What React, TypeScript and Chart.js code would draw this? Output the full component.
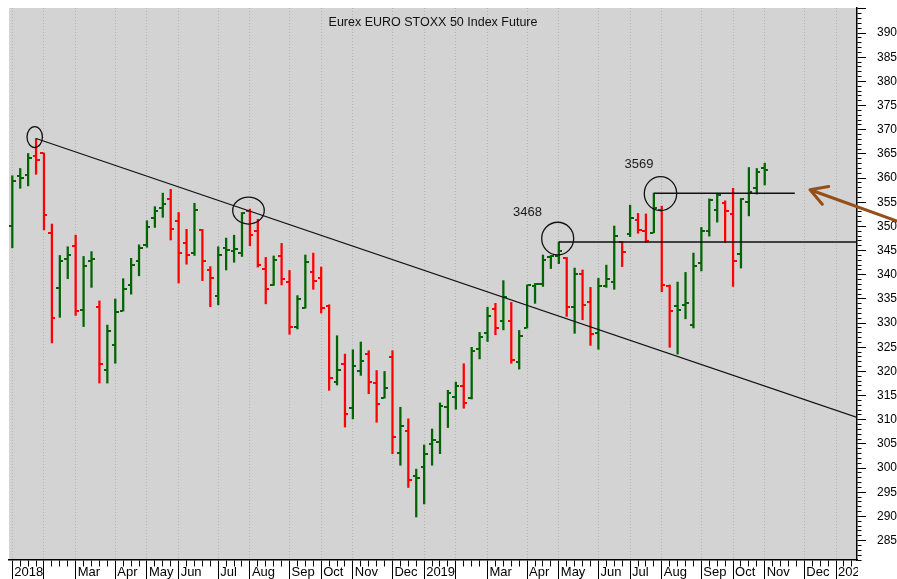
import React, { useEffect, useRef } from 'react';
import { Chart, registerables } from 'chart.js';

Chart.register(...registerables);

// ---- weekly OHLC (week index 0 = first week of Jan 2018) ----
const OPEN = [3501,3605,3606,3646,3651,3486,3372,3433,3460,3327,3428,3334,3203,3254,3326,3379,3429,3462,3517,3539,3557,3511,3465,3445,3493,3410,3356,3455,3449,3445,3533,3491,3412,3379,3438,3386,3293,3332,3405,3393,3336,3179,3215,3125,3202,3236,3176,3146,3231,3031,3076,2984,3002,3050,3055,3126,3148,3170,3146,3247,3279,3330,3305,3305,3219,3290,3376,3381,3436,3439,3434,3333,3401,3343,3279,3376,3386,3467,3484,3513,3490,3487,3535,3377,3336,3338,3296,3424,3491,3534,3549,3526,3443,3550,3579,3622];
const HIGH = [3605,3620,3651,3682,3652,3505,3440,3458,3482,3438,3448,3346,3296,3350,3392,3434,3462,3512,3541,3569,3577,3529,3494,3548,3494,3417,3458,3476,3482,3529,3536,3515,3436,3439,3465,3409,3357,3441,3445,3416,3338,3274,3236,3245,3261,3243,3202,3200,3243,3126,3102,2998,3048,3081,3135,3161,3178,3216,3250,3281,3333,3341,3388,3343,3285,3379,3382,3441,3440,3468,3436,3414,3410,3374,3393,3420,3501,3469,3544,3527,3526,3569,3542,3379,3385,3405,3445,3498,3557,3569,3553,3579,3558,3622,3620,3631];
const LOW = [3456,3579,3584,3608,3493,3259,3312,3392,3316,3293,3374,3176,3176,3217,3325,3360,3398,3457,3498,3519,3472,3383,3422,3440,3388,3334,3338,3410,3426,3438,3460,3416,3340,3378,3379,3277,3288,3331,3370,3321,3161,3172,3085,3102,3192,3154,3095,3145,3030,3006,2960,2899,2926,3006,3030,3084,3122,3124,3143,3226,3262,3276,3286,3217,3205,3290,3341,3376,3413,3423,3314,3279,3307,3254,3246,3374,3370,3417,3479,3486,3467,3487,3365,3250,3236,3309,3290,3408,3480,3509,3467,3376,3414,3522,3567,3586];
const CLOSE = [3595,3600,3642,3638,3524,3310,3429,3440,3325,3418,3432,3215,3283,3323,3371,3420,3456,3498,3533,3547,3494,3445,3440,3534,3429,3393,3440,3452,3454,3527,3482,3420,3371,3431,3391,3292,3350,3426,3388,3332,3186,3203,3112,3212,3222,3179,3133,3166,3064,3088,2975,2980,3029,3058,3128,3156,3170,3135,3243,3271,3314,3290,3354,3224,3274,3378,3381,3430,3438,3450,3333,3402,3338,3278,3376,3391,3480,3448,3518,3492,3470,3538,3379,3325,3327,3342,3419,3491,3555,3565,3531,3429,3556,3572,3612,3616];

// ---- x axis (weeks) ----
const MONTH_START_WEEKS = [0,4,8,13,17,21,26,30,35,39,43,48,52,56,60,65,69,74,78,82,87,91,95,100,104];
const MONTH_LABELS = ['2018','','Mar','Apr','May','Jun','Jul','Aug','Sep','Oct','Nov','Dec','2019','','Mar','Apr','May','Jun','Jul','Aug','Sep','Oct','Nov','Dec','2020'];
const X_MIN = -0.417;
const X_MAX = 106.65;
const LAST_TICK_WEEK = 106;

// ---- y axis ----
const Y_MIN = 2810;
const Y_MAX = 3952;
const Y_MINOR_STEP = 10;
const Y_MAJOR_STEP = 50;
const Y_LABEL_MIN = 2850;
const Y_LABEL_MAX = 3900;

// ---- annotations ----
const TITLE = 'Eurex EURO STOXX 50 Index Future';
const TREND_WEEKS = [3, X_MAX];
const TREND_PRICES = [3682, 3105];
const LEVEL_PRICES = [3468, 3569];
const LEVEL_START_WEEKS = [69, 81];
const LEVEL_END_WEEKS = [X_MAX, 98.8];
const LEVEL_TEXT_WEEKS = [65.05, 79.13];
const LEVEL_TEXT_PRICES = [3522.5, 3622];
const CIRCLE_WEEKS = [2.83, 29.82, 68.86, 81.84];
const CIRCLE_PRICES = [3685, 3533, 3475, 3568];
const CIRCLE_RADII = [[7.7, 10.5], [15.8, 13.5], [16, 16.3], [16.2, 17]];
const ARROW_WEEKS = [111.7, 100.72]; // tail, tip
const ARROW_PRICES = [3511, 3576];

// ---- styles ----
const FONT = '"Liberation Sans", Arial, Helvetica, sans-serif';
const UP_COLOR = '#006400';
const DOWN_COLOR = '#ff0000';
const PLOT_BG = '#d3d3d3';
const GRID_COLOR = '#b4b4b4';
const ARROW_COLOR = '#94501a';

const isMonthStart = (v: any) => MONTH_START_WEEKS.includes(v);

function makeTick(color: string, side: 'left' | 'right'): HTMLCanvasElement {
  const c = document.createElement('canvas');
  c.width = 7;
  c.height = 2;
  const g = c.getContext('2d')!;
  g.fillStyle = color;
  if (side === 'left') g.fillRect(0, 0, 3, 2);
  else g.fillRect(4, 0, 3, 2);
  return c;
}

const overlayPlugin = {
  id: 'overlay',
  beforeDraw(chart: any) {
    const { ctx, chartArea: a, width, height } = chart;
    ctx.save();
    ctx.fillStyle = '#ffffff';
    ctx.fillRect(0, 0, width, height);
    ctx.fillStyle = PLOT_BG;
    ctx.fillRect(a.left, a.top, a.right - a.left, a.bottom - a.top);
    ctx.restore();
  },
  afterDatasetsDraw(chart: any) {
    const { ctx, chartArea: a, scales } = chart;
    const xs = scales.x;
    const ys = scales.y;
    ctx.save();
    ctx.beginPath();
    ctx.rect(a.left, a.top, a.right - a.left, a.bottom - a.top);
    ctx.clip();
    // circles
    ctx.strokeStyle = '#111';
    ctx.lineWidth = 1.3;
    CIRCLE_WEEKS.forEach((w, k) => {
      ctx.beginPath();
      ctx.ellipse(xs.getPixelForValue(w), ys.getPixelForValue(CIRCLE_PRICES[k]), CIRCLE_RADII[k][0], CIRCLE_RADII[k][1], 0, 0, Math.PI * 2);
      ctx.stroke();
    });
    // level labels
    ctx.fillStyle = '#1a1a1a';
    ctx.font = `13px ${FONT}`;
    ctx.textAlign = 'center';
    ctx.textBaseline = 'alphabetic';
    LEVEL_PRICES.forEach((p, k) => {
      ctx.fillText(String(p), xs.getPixelForValue(LEVEL_TEXT_WEEKS[k]), ys.getPixelForValue(LEVEL_TEXT_PRICES[k]));
    });
    // title
    ctx.font = `12.5px ${FONT}`;
    ctx.fillStyle = '#111';
    ctx.fillText(TITLE, (a.left + a.right) / 2, a.top + 18.3);
    ctx.restore();
  },
  afterDraw(chart: any) {
    const { ctx, scales, chartArea: a, width, height } = chart;
    // the x-axis label strip is clipped at the plot's right edge
    ctx.save();
    ctx.fillStyle = '#ffffff';
    ctx.fillRect(a.right + 1, a.bottom + 1, width - a.right - 1, height - a.bottom - 1);
    ctx.restore();

    const xs = scales.x;
    const ys = scales.y;
    const x0 = xs.getPixelForValue(ARROW_WEEKS[0]);
    const y0 = ys.getPixelForValue(ARROW_PRICES[0]);
    const x1 = xs.getPixelForValue(ARROW_WEEKS[1]);
    const y1 = ys.getPixelForValue(ARROW_PRICES[1]);
    const ang = Math.atan2(y0 - y1, x0 - x1);
    const head = 19;
    const spread = (30 * Math.PI) / 180;
    ctx.save();
    ctx.strokeStyle = ARROW_COLOR;
    ctx.lineWidth = 3;
    ctx.lineCap = 'round';
    ctx.lineJoin = 'round';
    ctx.beginPath();
    ctx.moveTo(x0, y0);
    ctx.lineTo(x1, y1);
    ctx.moveTo(x1 + head * Math.cos(ang - spread), y1 + head * Math.sin(ang - spread));
    ctx.lineTo(x1, y1);
    ctx.lineTo(x1 + head * Math.cos(ang + spread), y1 + head * Math.sin(ang + spread));
    ctx.stroke();
    ctx.restore();
  },
};

export default function App() {
  const ref = useRef<HTMLCanvasElement | null>(null);

  useEffect(() => {
    const canvas = ref.current;
    if (!canvas) return;

    const up = CLOSE.map((c, i) => c >= (i === 0 ? OPEN[0] : CLOSE[i - 1]));
    const openUp = makeTick(UP_COLOR, 'left');
    const openDown = makeTick(DOWN_COLOR, 'left');
    const closeUp = makeTick(UP_COLOR, 'right');
    const closeDown = makeTick(DOWN_COLOR, 'right');

    const ranges = HIGH.map((h, i) => ({ x: i, y: [LOW[i], h] }));
    const opens = OPEN.map((o, i) => ({ x: i, y: o }));
    const closes = CLOSE.map((c, i) => ({ x: i, y: c }));
    const barColors = up.map((u) => (u ? UP_COLOR : DOWN_COLOR));
    const openStyles = up.map((u) => (u ? openUp : openDown));
    const closeStyles = up.map((u) => (u ? closeUp : closeDown));

    const trend = TREND_WEEKS.map((w, k) => ({ x: w, y: TREND_PRICES[k] }));
    const levels = LEVEL_PRICES.map((p, k) => [
      { x: LEVEL_START_WEEKS[k], y: p },
      { x: LEVEL_END_WEEKS[k], y: p },
    ]);

    const xTicks: number[] = [];
    for (let w = 0; w <= LAST_TICK_WEEK; w++) xTicks.push(w);
    const yTicks: number[] = [];
    for (let v = Math.ceil(Y_MIN / Y_MINOR_STEP) * Y_MINOR_STEP; v <= Y_MAX; v += Y_MINOR_STEP) yTicks.push(v);

    const lineDs = (data: any[], width: number) => ({
      type: 'line',
      data,
      borderColor: '#111',
      borderWidth: width,
      pointRadius: 0,
      fill: false,
      tension: 0,
    });

    const chart = new Chart(canvas, {
      type: 'bar',
      data: {
        datasets: [
          lineDs(trend, 1.3),
          lineDs(levels[0], 1.5),
          lineDs(levels[1], 1.5),
          {
            type: 'scatter',
            data: opens,
            pointStyle: openStyles,
            pointRadius: 3,
            pointBorderWidth: 0,
          },
          {
            type: 'scatter',
            data: closes,
            pointStyle: closeStyles,
            pointRadius: 3,
            pointBorderWidth: 0,
          },
          {
            type: 'bar',
            data: ranges,
            backgroundColor: barColors,
            borderWidth: 0,
            barThickness: 1.6,
          },
        ] as any,
      },
      options: {
        responsive: false,
        animation: false,
        devicePixelRatio: 1,
        events: [],
        layout: { padding: { left: 9, top: 8, right: 0, bottom: 0 } },
        plugins: {
          legend: { display: false },
          tooltip: { enabled: false },
          title: { display: false },
        },
        scales: {
          x: {
            type: 'linear',
            position: 'bottom',
            min: X_MIN,
            max: X_MAX,
            offset: false,
            bounds: 'data',
            afterBuildTicks: (s: any) => {
              s.ticks = xTicks.map((v) => ({ value: v }));
            },
            afterFit: (s: any) => {
              s.height = 19;
            },
            grid: {
              display: true,
              drawOnChartArea: true,
              drawTicks: true,
              offset: false,
              tickLength: 19,
              lineWidth: 1,
              color: (ctx: any) => (ctx.tick && isMonthStart(ctx.tick.value) ? GRID_COLOR : 'rgba(0,0,0,0)'),
              tickColor: '#000',
              tickWidth: 1,
              tickBorderDash: (ctx: any) => (ctx.tick && isMonthStart(ctx.tick.value) ? [] : [6, 40]),
            },
            border: { display: true, color: '#000', width: 1.5, dash: [1, 2] },
            ticks: {
              autoSkip: false,
              maxRotation: 0,
              minRotation: 0,
              align: 'start',
              labelOffset: 2,
              padding: -14,
              color: '#000',
              font: { family: FONT, size: 13 },
              callback: (v: any) => {
                const k = MONTH_START_WEEKS.indexOf(v);
                return k >= 0 ? MONTH_LABELS[k] : '';
              },
            },
          },
          y: {
            type: 'linear',
            position: 'right',
            min: Y_MIN,
            max: Y_MAX,
            bounds: 'data',
            beginAtZero: false,
            afterBuildTicks: (s: any) => {
              s.ticks = yTicks.map((v) => ({ value: v }));
            },
            afterFit: (s: any) => {
              s.width = 40;
            },
            grid: {
              display: true,
              drawOnChartArea: false,
              drawTicks: true,
              tickLength: 20,
              tickColor: '#000',
              tickWidth: 1,
              tickBorderDash: (ctx: any) =>
                ctx.tick && ctx.tick.value % Y_MAJOR_STEP === 0 ? [8.5, 40] : [4, 40],
            },
            border: { display: true, color: '#000', width: 1.5 },
            ticks: {
              autoSkip: false,
              padding: 0,
              color: '#000',
              font: { family: FONT, size: 12 },
              callback: (v: any) =>
                v % Y_MAJOR_STEP === 0 && v >= Y_LABEL_MIN && v <= Y_LABEL_MAX ? String(v) : '',
            },
          },
        },
      } as any,
      plugins: [overlayPlugin],
    });

    return () => {
      chart.destroy();
    };
  }, []);

  return (
    <div style={{ position: 'absolute', left: 0, top: 0, width: 897, height: 579, background: '#fff', overflow: 'hidden' }}>
      <canvas ref={ref} width={897} height={579} style={{ display: 'block', width: 897, height: 579 }} />
    </div>
  );
}
